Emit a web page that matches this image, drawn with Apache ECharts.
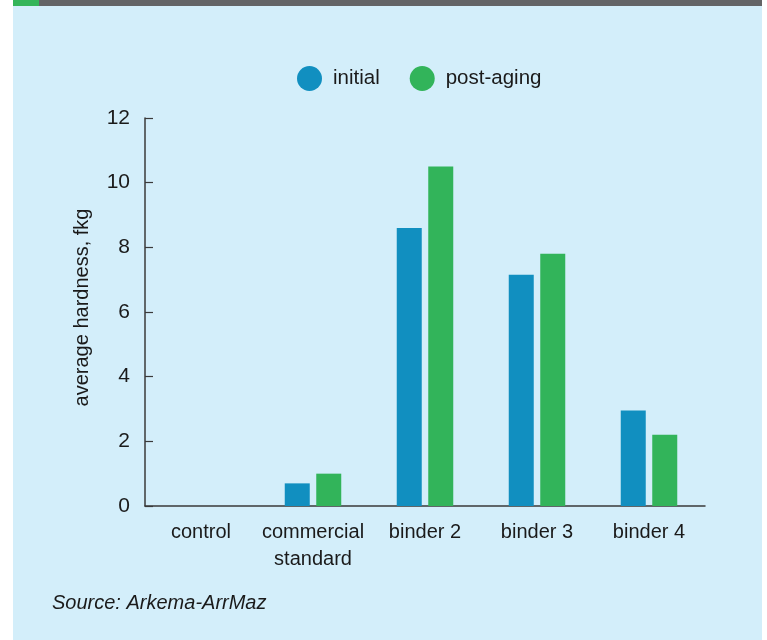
<!DOCTYPE html>
<html>
<head>
<meta charset="utf-8">
<script src="https://cdn.jsdelivr.net/npm/echarts@6/dist/echarts.min.js"></script>
<style>
  html, body { margin: 0; padding: 0; background: #ffffff; }
  #chart { width: 767px; height: 640px; }
</style>
</head>
<body>
<div id="chart"></div>
<script>
// Average hardness by binder, before and after aging
const categories = ['control', 'commercial\nstandard', 'binder 2', 'binder 3', 'binder 4'];
const initialValues = [0, 0.7, 8.6, 7.15, 2.95];
const postAgingValues = [0, 1.0, 10.5, 7.8, 2.2];
const seriesNames = ['initial', 'post-aging'];
const yTicks = { min: 0, max: 12, interval: 2 };

const FONT = '"Liberation Sans", Arial, sans-serif';
const BLUE = '#118fc0';
const GREEN = '#32b45a';
const TEXT = '#1a1a1a';
const AXIS = '#3a3a3a';

const chart = echarts.init(document.getElementById('chart'), null, { renderer: 'canvas' });

chart.setOption({
  backgroundColor: '#ffffff',
  animation: false,
  graphic: [
    { type: 'rect', z: -10, shape: { x: 13, y: 0, width: 749, height: 640 }, style: { fill: '#d3eefa' } },
    { type: 'rect', z: -9, shape: { x: 13, y: 0, width: 749, height: 6 }, style: { fill: '#636466' } },
    { type: 'rect', z: -8, shape: { x: 13, y: 0, width: 26, height: 6 }, style: { fill: '#34b559' } },
    {
      type: 'text', left: 52, top: 593,
      style: { text: 'Source: Arkema-ArrMaz', font: 'italic 20px ' + FONT, fill: TEXT }
    }
  ],
  legend: {
    data: seriesNames,
    top: 66,
    left: 297,
    padding: 0,
    icon: 'circle',
    itemWidth: 25,
    itemHeight: 25,
    itemGap: 30,
    textStyle: { fontFamily: FONT, fontSize: 20.5, color: TEXT, padding: [0, 0, 0, 6] }
  },
  grid: { left: 145, right: 62, top: 118, bottom: 134 },
  xAxis: {
    type: 'category',
    data: categories,
    axisLine: { lineStyle: { color: AXIS, width: 1.5 } },
    axisTick: { show: false },
    axisLabel: {
      fontFamily: FONT, fontSize: 20, color: TEXT, margin: 13, lineHeight: 27, interval: 0
    }
  },
  yAxis: {
    type: 'value',
    min: yTicks.min, max: yTicks.max, interval: yTicks.interval,
    name: 'average hardness, fkg',
    nameLocation: 'middle',
    nameGap: 53,
    nameRotate: 90,
    nameTextStyle: { fontFamily: FONT, fontSize: 20, color: TEXT, padding: [0, 0, 0, 9] },
    axisLine: { show: true, lineStyle: { color: AXIS, width: 1.5 } },
    axisTick: { show: true, inside: true, length: 8, lineStyle: { color: AXIS, width: 1.2 } },
    splitLine: { show: false },
    axisLabel: { fontFamily: FONT, fontSize: 21, color: TEXT, margin: 15 }
  },
  series: [
    {
      name: seriesNames[0], type: 'bar', data: initialValues,
      barWidth: 25, barGap: '26%',
      itemStyle: { color: BLUE }
    },
    {
      name: seriesNames[1], type: 'bar', data: postAgingValues,
      barWidth: 25,
      itemStyle: { color: GREEN }
    }
  ]
});
</script>
</body>
</html>
